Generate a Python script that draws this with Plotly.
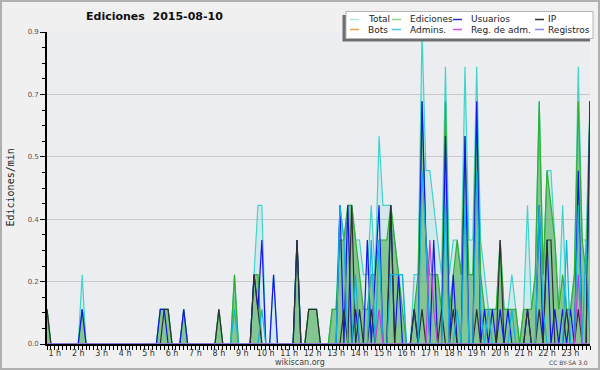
import plotly.graph_objects as go

# ---- data: edits per minute, 10-minute bins starting 00:40 ----
start_minute = 40
n_bins = 140
hours = [(start_minute + 10 * i) / 60 for i in range(n_bins)]

total = [
    0.1, 0, 0, 0, 0, 0, 0, 0, 0, 0.2,
    0, 0, 0, 0, 0, 0, 0, 0, 0, 0,
    0, 0, 0, 0, 0, 0, 0, 0, 0, 0.1,
    0.1, 0.1, 0, 0, 0, 0.1, 0, 0, 0, 0,
    0, 0, 0, 0, 0.1, 0, 0, 0, 0.2, 0,
    0, 0, 0, 0.2, 0.4, 0.4, 0, 0, 0.2, 0,
    0, 0, 0, 0, 0.3, 0, 0, 0.1, 0.1, 0.1,
    0, 0, 0, 0.1, 0.1, 0.4, 0.3, 0.4, 0.4, 0.3,
    0.3, 0.2, 0.2, 0.4, 0.2, 0.6, 0.4, 0.4, 0.4, 0.3,
    0.2, 0.2, 0, 0, 0.2, 0.2, 0.9, 0.5, 0.5, 0.4,
    0.3, 0.2, 0.8, 0.2, 0.3, 0.3, 0.2, 0.8, 0.3, 0.3,
    0.8, 0.3, 0.2, 0.1, 0.1, 0.1, 0.3, 0.1, 0.1, 0.2,
    0.1, 0, 0.1, 0.4, 0.1, 0.2, 0.7, 0.2, 0.5, 0.5,
    0.3, 0.1, 0.4, 0.1, 0.1, 0.2, 0.8, 0.3, 0.3, 0.7,
]
ediciones = [
    0.1, 0, 0, 0, 0, 0, 0, 0, 0, 0.1,
    0, 0, 0, 0, 0, 0, 0, 0, 0, 0,
    0, 0, 0, 0, 0, 0, 0, 0, 0, 0.1,
    0.1, 0.1, 0, 0, 0, 0.1, 0, 0, 0, 0,
    0, 0, 0, 0, 0.1, 0, 0, 0, 0.2, 0,
    0, 0, 0, 0.2, 0.2, 0, 0, 0, 0, 0,
    0, 0, 0, 0, 0.3, 0, 0, 0.1, 0.1, 0.1,
    0, 0, 0, 0.1, 0.1, 0.3, 0.3, 0.4, 0.4, 0.3,
    0.2, 0.1, 0.1, 0.2, 0.2, 0.3, 0.3, 0.3, 0.4, 0.3,
    0.2, 0.1, 0, 0, 0.1, 0.2, 0.7, 0.3, 0.2, 0.2,
    0.2, 0.1, 0.7, 0.1, 0.2, 0.3, 0.2, 0.6, 0.2, 0.2,
    0.7, 0.2, 0.1, 0.1, 0.1, 0.1, 0.3, 0.1, 0.1, 0.1,
    0.1, 0, 0.1, 0.1, 0.1, 0.2, 0.7, 0.2, 0.5, 0.4,
    0.3, 0.1, 0.2, 0.1, 0.1, 0.2, 0.7, 0.3, 0.2, 0.7,
]
usuarios = [
    0, 0, 0, 0, 0, 0, 0, 0, 0, 0.1,
    0, 0, 0, 0, 0, 0, 0, 0, 0, 0,
    0, 0, 0, 0, 0, 0, 0, 0, 0, 0.1,
    0.1, 0, 0, 0, 0, 0.1, 0, 0, 0, 0,
    0, 0, 0, 0, 0, 0, 0, 0, 0, 0,
    0, 0, 0, 0.2, 0.1, 0.3, 0, 0, 0.2, 0,
    0, 0, 0, 0, 0.3, 0, 0, 0, 0, 0,
    0, 0, 0, 0, 0, 0.4, 0, 0.4, 0, 0.1,
    0, 0, 0.3, 0, 0.2, 0.4, 0, 0, 0.4, 0,
    0.2, 0, 0, 0, 0.1, 0, 0.7, 0.3, 0, 0.3,
    0, 0, 0.6, 0, 0.2, 0, 0, 0.6, 0, 0,
    0.7, 0, 0.1, 0, 0.1, 0, 0.1, 0, 0.1, 0,
    0, 0, 0, 0.1, 0, 0, 0.4, 0, 0.3, 0,
    0.1, 0, 0.1, 0, 0.1, 0, 0.5, 0, 0, 0.7,
]
ip = [
    0.1, 0, 0, 0, 0, 0, 0, 0, 0, 0,
    0, 0, 0, 0, 0, 0, 0, 0, 0, 0,
    0, 0, 0, 0, 0, 0, 0, 0, 0, 0,
    0.1, 0.1, 0, 0, 0, 0, 0, 0, 0, 0,
    0, 0, 0, 0, 0.1, 0, 0, 0, 0, 0,
    0, 0, 0, 0.2, 0.1, 0, 0, 0, 0, 0,
    0, 0, 0, 0, 0.3, 0, 0, 0.1, 0.1, 0.1,
    0, 0, 0, 0, 0, 0, 0.1, 0, 0.4, 0,
    0.1, 0, 0, 0.1, 0, 0, 0, 0, 0.4, 0,
    0, 0, 0, 0, 0.1, 0, 0.1, 0, 0, 0,
    0, 0.1, 0, 0, 0.1, 0, 0, 0, 0, 0,
    0.1, 0, 0, 0, 0, 0, 0.3, 0, 0, 0,
    0, 0, 0, 0.1, 0, 0, 0.1, 0, 0.3, 0.3,
    0, 0, 0, 0.1, 0, 0, 0.1, 0, 0, 0.7,
]
bots = [0] * n_bins
admins = [
    0, 0, 0, 0, 0, 0, 0, 0, 0, 0,
    0, 0, 0, 0, 0, 0, 0, 0, 0, 0,
    0, 0, 0, 0, 0, 0, 0, 0, 0, 0,
    0, 0, 0, 0, 0, 0, 0, 0, 0, 0,
    0, 0, 0, 0, 0, 0, 0, 0, 0.1, 0,
    0, 0, 0, 0, 0, 0.1, 0, 0, 0, 0,
    0, 0, 0, 0, 0, 0, 0, 0, 0, 0,
    0, 0, 0, 0, 0, 0.4, 0.3, 0, 0, 0.2,
    0, 0, 0, 0.3, 0, 0.3, 0, 0, 0.2, 0.2,
    0.2, 0.2, 0, 0, 0, 0, 0.5, 0.3, 0, 0,
    0, 0, 0.4, 0, 0, 0.1, 0, 0.4, 0, 0,
    0.5, 0.1, 0, 0.1, 0, 0, 0, 0, 0, 0.1,
    0, 0, 0, 0, 0, 0, 0.4, 0.1, 0, 0,
    0, 0, 0, 0.3, 0, 0, 0.4, 0, 0.3, 0,
]
reg_adm = [
    0, 0, 0, 0, 0, 0, 0, 0, 0, 0,
    0, 0, 0, 0, 0, 0, 0, 0, 0, 0,
    0, 0, 0, 0, 0, 0, 0, 0, 0, 0,
    0, 0, 0, 0, 0, 0, 0, 0, 0, 0,
    0, 0, 0, 0, 0, 0, 0, 0, 0, 0,
    0, 0, 0, 0, 0, 0, 0, 0, 0, 0,
    0, 0, 0, 0, 0, 0, 0, 0, 0, 0,
    0, 0, 0, 0, 0, 0, 0, 0, 0, 0,
    0, 0, 0, 0, 0, 0.1, 0, 0, 0, 0,
    0, 0, 0, 0, 0, 0, 0, 0, 0.3, 0.1,
    0, 0, 0, 0, 0, 0, 0, 0, 0, 0,
    0, 0, 0, 0, 0, 0, 0, 0, 0, 0,
    0, 0, 0, 0, 0, 0, 0, 0, 0, 0,
    0, 0, 0, 0, 0, 0, 0.2, 0, 0, 0,
]
registros = [0] * n_bins

y_tickvals = [0, 0.18, 0.36, 0.54, 0.72, 0.9]
y_ticktext = ["0.0", "0.2", "0.4", "0.5", "0.7", "0.9"]

legend_names = ["Total", "Ediciones", "Usuarios", "IP", "Bots", "Admins.", "Reg. de adm.", "Registros"]
legend_colors = ["#ade6df", "#8fd08f", "#2c2cdc", "#303030", "#f0a040", "#44c8e4", "#d04ce0", "#8484f0"]

# ---- figure ----
W, H = 600, 370
ML, MR, MT, MB = 47, 10, 32, 26
PW, PH = W - ML - MR, H - MT - MB


def px(x):
    return (x - ML) / PW


def py(y):
    return (H - MB - y) / PH


fig = go.Figure()

fig.add_trace(go.Scatter(x=hours, y=total, mode="lines", fill="tozeroy",
                         fillcolor="rgba(64,208,200,0.15)",
                         line=dict(color="#40d4ca", width=1.2), showlegend=False))
fig.add_trace(go.Scatter(x=hours, y=ediciones, mode="lines", fill="tozeroy",
                         fillcolor="rgba(48,160,48,0.48)",
                         line=dict(color="#30b030", width=1.2), showlegend=False))
line_series = [
    (usuarios, "#1414f0"),
    (ip, "#303030"),
    (bots, "#f0a040"),
    (admins, "#10b4dc"),
    (reg_adm, "#c83ce8"),
    (registros, "#8484f0"),
]
for ys, col in line_series:
    fig.add_trace(go.Scatter(x=hours, y=ys, mode="lines",
                             line=dict(color=col, width=1.2), showlegend=False))

fig.update_layout(
    width=W, height=H,
    margin=dict(l=ML, r=MR, t=MT, b=MB),
    paper_bgcolor="#f0f0f0",
    plot_bgcolor="#ecedf0",
    showlegend=False,
    font=dict(family="DejaVu Sans", color="#333"),
)
fig.update_xaxes(
    range=[hours[0], hours[-1]],
    tickmode="linear", tick0=1, dtick=1, ticksuffix=" h",
    ticks="outside", ticklen=4, tickwidth=1, tickcolor="black",
    ticklabelstandoff=-3,
    minor=dict(ticks="outside", dtick=1 / 6, tick0=0, ticklen=4, tickcolor="black", tickwidth=1),
    showgrid=False, zeroline=False,
    showline=True, linecolor="black", linewidth=1.6,
    tickfont=dict(size=8, color="#333", family="DejaVu Sans"),
)
fig.update_yaxes(
    range=[0, 0.9],
    tickmode="array", tickvals=y_tickvals, ticktext=y_ticktext,
    ticks="outside", ticklen=5, tickwidth=1, tickcolor="black",
    minor=dict(ticks="outside", dtick=0.045, tick0=0, ticklen=3, tickcolor="black", tickwidth=1,
               showgrid=False),
    showgrid=True, gridcolor="#c8c8c8", gridwidth=1,
    zeroline=False,
    showline=True, linecolor="black", linewidth=1.6,
    tickfont=dict(size=7, color="#555", family="DejaVu Sans"),
)

shapes = []
annotations = []
# outer border
shapes.append(dict(type="rect", xref="paper", yref="paper", x0=px(1), x1=px(599), y0=py(1), y1=py(369),
                   line=dict(color="#b0b0b0", width=2), fillcolor="rgba(0,0,0,0)", layer="above"))
# legend shadow + box
shapes.append(dict(type="rect", xref="paper", yref="paper", x0=px(342.5), x1=px(590), y0=py(15), y1=py(41.5),
                   line=dict(width=0), fillcolor="#6e6e6e", layer="above"))
shapes.append(dict(type="rect", xref="paper", yref="paper", x0=px(346), x1=px(593), y0=py(11.5), y1=py(38.5),
                   line=dict(color="#b4b4b4", width=1), fillcolor="#ffffff", layer="above"))
col_marker_x = [350, 392, 453, 535]
col_text_x = [366, 408, 469, 545.5]
row_y = [19.5, 29.5]
for k, (name, col) in enumerate(zip(legend_names, legend_colors)):
    r, c = divmod(k, 4)
    shapes.append(dict(type="line", xref="paper", yref="paper",
                       x0=px(col_marker_x[c]), x1=px(col_marker_x[c] + 9),
                       y0=py(row_y[r]), y1=py(row_y[r]),
                       line=dict(color=col, width=1.5), layer="above"))
    annotations.append(dict(text=name, xref="paper", yref="paper", x=px(col_text_x[c]), y=py(row_y[r]),
                            xanchor="left", yanchor="middle", showarrow=False,
                            font=dict(family="DejaVu Sans", size=9, color="#222")))

annotations.append(dict(text="<b>Ediciones  2015-08-10</b>", xref="paper", yref="paper",
                        x=px(154), y=py(16.5), xanchor="center", yanchor="middle", showarrow=False,
                        font=dict(family="DejaVu Sans", size=11, color="#111")))
annotations.append(dict(text="Ediciones/min", xref="paper", yref="paper", x=px(9.5), y=py(188),
                        xanchor="center", yanchor="middle", textangle=-90, showarrow=False,
                        font=dict(family="DejaVu Sans Mono", size=10, color="#222")))
annotations.append(dict(text="wikiscan.org", xref="paper", yref="paper", x=px(300), y=py(362),
                        xanchor="center", yanchor="middle", showarrow=False,
                        font=dict(family="DejaVu Sans", size=8, color="#444")))
annotations.append(dict(text="CC BY-SA 3.0", xref="paper", yref="paper", x=px(589.5), y=py(362.5),
                        xanchor="right", yanchor="middle", showarrow=False,
                        font=dict(family="DejaVu Sans", size=6, color="#444")))

fig.update_layout(shapes=shapes, annotations=annotations)
fig.write_html("out.html", config={"displayModeBar": False},
               post_script="document.body.style.margin='0';document.body.style.overflow='hidden';")
